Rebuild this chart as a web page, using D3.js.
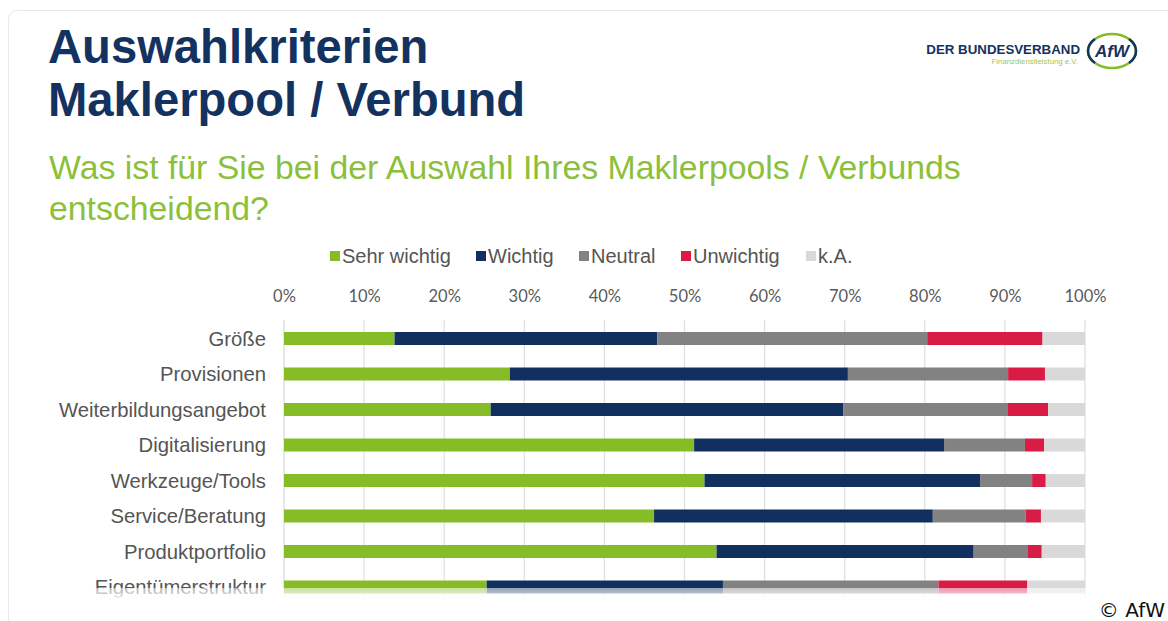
<!DOCTYPE html>
<html>
<head>
<meta charset="utf-8">
<script src="https://cdn.jsdelivr.net/npm/d3@7"></script>
<style>
  html, body { margin: 0; padding: 0; background: #fff; }
  svg { display: block; }
</style>
</head>
<body>
<div id="chart"></div>
<script>
const categories = ["Größe", "Provisionen", "Weiterbildungsangebot", "Digitalisierung",
  "Werkzeuge/Tools", "Service/Beratung", "Produktportfolio", "Eigentümerstruktur"];
const seriesNames = ["Sehr wichtig", "Wichtig", "Neutral", "Unwichtig", "k.A."];
const sehrWichtig = [13.8, 28.2, 25.8, 51.2, 52.5, 46.2, 54.0, 25.3];
const wichtig     = [32.8, 42.2, 44.0, 31.2, 34.4, 34.8, 32.1, 29.5];
const neutral     = [33.7, 20.0, 20.5, 10.1, 6.5, 11.6, 6.7, 26.9];
const unwichtig   = [14.4, 4.6, 5.1, 2.4, 1.7, 1.9, 1.8, 11.1];
const keineAngabe = [5.3, 5.0, 4.6, 5.1, 4.9, 5.5, 5.4, 7.2];
const tickValues = [0, 10, 20, 30, 40, 50, 60, 70, 80, 90, 100];

const colors = ["#86bc25", "#12305f", "#828282", "#d91c45", "#d9d9d9"];
const navy = "#14325f";
const green = "#86bc25";
const sans = "Liberation Sans, Arial, sans-serif";

const W = 1168, H = 621;
const svg = d3.select("#chart").append("svg").attr("width", W).attr("height", H);

// card frame
svg.append("rect")
  .attr("x", 8.5).attr("y", 10.5).attr("width", 1200).attr("height", 700)
  .attr("rx", 9).attr("fill", "#fff").attr("stroke", "#e8e8e8");

// titles
svg.append("text").attr("x", 48).attr("y", 63)
  .attr("font-family", sans).attr("font-weight", "bold")
  .attr("font-size", 47.2).attr("fill", navy).text("Auswahlkriterien");
svg.append("text").attr("x", 48).attr("y", 116)
  .attr("font-family", sans).attr("font-weight", "bold")
  .attr("font-size", 47.2).attr("fill", navy).text("Maklerpool / Verbund");

svg.append("text").attr("x", 49).attr("y", 179)
  .attr("font-family", sans)
  .attr("font-size", 33.8).attr("fill", "#8cc03a")
  .text("Was ist für Sie bei der Auswahl Ihres Maklerpools / Verbunds");
svg.append("text").attr("x", 49).attr("y", 220)
  .attr("font-family", sans)
  .attr("font-size", 33.8).attr("fill", "#8cc03a")
  .text("entscheidend?");

// logo
const logo = svg.append("g");
logo.append("text").attr("x", 1080).attr("y", 54).attr("text-anchor", "end")
  .attr("font-family", sans).attr("font-weight", "bold")
  .attr("font-size", 13.3).attr("fill", navy).text("DER BUNDESVERBAND");
logo.append("text").attr("x", 1078).attr("y", 64).attr("text-anchor", "end")
  .attr("font-family", sans)
  .attr("font-size", 7.8).attr("fill", "#9cc85a").text("Finanzdienstleistung e.V.");
logo.append("ellipse").attr("cx", 1112).attr("cy", 51).attr("rx", 24).attr("ry", 17)
  .attr("fill", "none").attr("stroke", green).attr("stroke-width", 2.5);
logo.append("path")
  .attr("d", "M1095,39 A24,17 0 0 0 1095,63 M1129,39 A24,17 0 0 1 1129,63")
  .attr("fill", "none").attr("stroke", navy).attr("stroke-width", 2.5);
logo.append("text").attr("x", 1112).attr("y", 57).attr("text-anchor", "middle")
  .attr("font-family", sans).attr("font-weight", "bold").attr("font-style", "italic")
  .attr("font-size", 17).attr("fill", navy).text("AfW");

// scales
const x = d3.scaleLinear().domain([0, 100]).range([284, 1085]);
const y = d3.scaleBand().domain(categories).range([320.75, 604.75])
  .paddingInner(0.634).paddingOuter(0.317);

// legend
const legendX = [330, 476, 579, 681, 806];
const legend = svg.append("g").selectAll("g").data(seriesNames).join("g")
  .attr("transform", (d, i) => `translate(${legendX[i]},256)`);
legend.append("rect").attr("x", 0).attr("y", -5).attr("width", 10).attr("height", 10)
  .attr("fill", (d, i) => colors[i]);
legend.append("text").attr("x", 12).attr("y", 7)
  .attr("font-family", sans).attr("font-size", 20)
  .attr("fill", "#555").text(d => d);

// gridlines + top axis labels
svg.append("g").selectAll("line").data(tickValues).join("line")
  .attr("x1", d => x(d)).attr("x2", d => x(d))
  .attr("y1", 320).attr("y2", 600)
  .attr("stroke", d => d === 0 ? "#d3d8e0" : "#dedede").attr("stroke-width", 1.2);

const xAxis = svg.append("g").attr("transform", "translate(0,302)")
  .call(d3.axisTop(x).tickValues(tickValues).tickFormat(d => d + "%").tickSize(0).tickPadding(0));
xAxis.select(".domain").remove();
xAxis.selectAll("text").attr("font-family", "Lato, sans-serif").attr("font-size", 16.5)
  .attr("fill", "#5a5a5a");

// category labels
svg.append("g").selectAll("text").data(categories).join("text")
  .attr("x", 266).attr("y", d => y(d) + y.bandwidth() / 2)
  .attr("dy", "0.35em").attr("text-anchor", "end")
  .attr("font-family", sans).attr("font-size", 20.3)
  .attr("fill", "#555").text(d => d);

// stacked bars
const rows = categories.map((c, i) => ({
  cat: c,
  vals: [sehrWichtig[i], wichtig[i], neutral[i], unwichtig[i], keineAngabe[i]]
}));
const stacked = d3.stack().keys(d3.range(5)).value((d, k) => d.vals[k])(rows);

svg.append("g").selectAll("g").data(stacked).join("g")
  .attr("fill", (d, i) => colors[i])
  .selectAll("rect").data(d => d).join("rect")
  .attr("x", d => x(d[0]))
  .attr("width", d => Math.min(x(d[1]), x(100)) - x(d[0]))
  .attr("y", d => y(d.data.cat))
  .attr("height", y.bandwidth());

// faded cut-off at the bottom
const grad = svg.append("defs").append("linearGradient").attr("id", "fade")
  .attr("x1", 0).attr("y1", 0).attr("x2", 0).attr("y2", 1);
grad.append("stop").attr("offset", 0).attr("stop-color", "#fff").attr("stop-opacity", 0.55);
grad.append("stop").attr("offset", 0.5).attr("stop-color", "#fff").attr("stop-opacity", 0.7);
grad.append("stop").attr("offset", 1).attr("stop-color", "#fff").attr("stop-opacity", 1);
svg.append("rect").attr("x", 10).attr("y", 588).attr("width", 1150).attr("height", 12)
  .attr("fill", "url(#fade)");
svg.append("rect").attr("x", 10).attr("y", 600).attr("width", 1160).attr("height", 30)
  .attr("fill", "#fff");

// copyright
svg.append("text").attr("x", 1165).attr("y", 617).attr("text-anchor", "end")
  .attr("font-family", "DejaVu Sans, sans-serif").attr("font-size", 20)
  .attr("fill", "#111").text("© AfW");
</script>
</body>
</html>
